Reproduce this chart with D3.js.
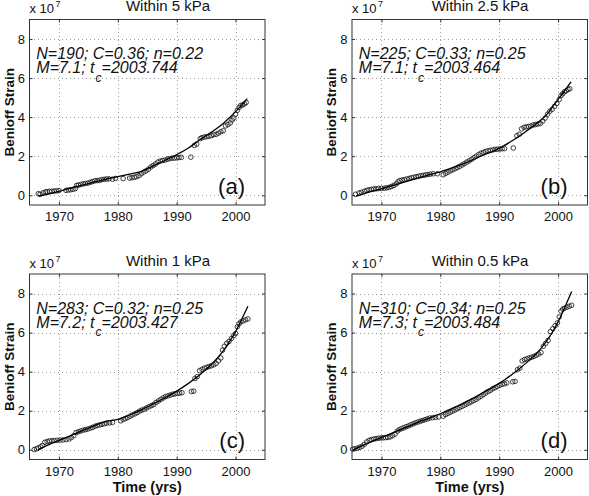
<!DOCTYPE html>
<html>
<head>
<meta charset="utf-8">
<script src="https://cdn.jsdelivr.net/npm/d3@7/dist/d3.min.js"></script>
<style>
body { margin: 0; background: #fff; }
svg { font-family: 'Liberation Sans', Arial, Helvetica, sans-serif; }
.grid line { stroke: #9a9a9a; stroke-dasharray: 1,3; shape-rendering: crispEdges; }
.grid path, .ticks path { display: none; }
.ticks line { stroke: #333; }
.ticks text { font-size: 13px; fill: #111; }
</style>
</head>
<body>
<script>
// axis ticks
var yearTicks = [1970, 1980, 1990, 2000];
var strainTicks = [0, 2, 4, 6, 8];

// panel texts
var titles = ['Within 5 kPa', 'Within 2.5 kPa', 'Within 1 kPa', 'Within 0.5 kPa'];
var fitLines = ['N=190; C=0.36; n=0.22', 'N=225; C=0.33; n=0.25', 'N=283; C=0.32; n=0.25', 'N=310; C=0.34; n=0.25'];
var magnitudes = ['M=7.1; t', 'M=7.1; t', 'M=7.2; t', 'M=7.3; t'];
var tcValues = ['=2003.744', '=2003.464', '=2003.427', '=2003.484'];
var panelLabels = ['(a)', '(b)', '(c)', '(d)'];

// cumulative Benioff strain (x 10^7), [year, value]
var pointsA = [[1966.5,0.08],[1966.8,0.05],[1967.3,0.12],[1967.7,0.17],[1968.0,0.18],[1968.4,0.2],[1968.8,0.2],[1969.2,0.22],[1969.6,0.22],[1970.0,0.24],
    [1971.2,0.25],[1971.6,0.27],[1972.0,0.28],[1972.4,0.3],[1972.8,0.35],[1973.0,0.5],[1973.3,0.52],[1973.7,0.55],[1974.1,0.58],[1974.5,0.6],
    [1974.9,0.62],[1975.3,0.66],[1975.7,0.7],[1976.1,0.74],[1976.5,0.75],[1976.9,0.76],[1977.3,0.8],[1977.7,0.82],[1978.1,0.83],[1978.5,0.84],
    [1979.1,0.82],[1979.6,0.86],[1980.9,0.85],[1982.0,0.88],[1982.4,0.9],[1982.8,0.92],[1983.2,0.95],[1983.6,1.0],[1984.0,1.1],[1984.4,1.18],
    [1984.8,1.25],[1985.2,1.33],[1985.6,1.45],[1986.0,1.52],[1986.4,1.6],[1986.8,1.7],[1987.2,1.75],[1987.6,1.78],[1988.0,1.8],[1988.4,1.85],
    [1988.8,1.87],[1989.2,1.9],[1989.6,1.9],[1990.0,1.92],[1990.4,1.93],[1990.8,1.94],[1992.4,1.95],[1993.0,2.55],[1993.4,2.62],[1994.0,2.9],
    [1994.3,2.95],[1994.7,2.98],[1995.1,3.0],[1995.5,3.02],[1995.9,3.05],[1996.3,3.1],[1996.7,3.12],[1997.1,3.18],[1997.5,3.25],[1997.9,3.3],
    [1998.3,3.55],[1998.7,3.62],[1999.1,3.7],[1999.4,3.85],[1999.7,3.95],[2000.0,4.15],[2000.3,4.35],[2000.6,4.5],[2000.9,4.6],[2001.2,4.62],
    [2001.5,4.68],[2001.8,4.75]];
var pointsB = [[1965.6,0.05],[1966.2,0.12],[1966.6,0.15],[1967.1,0.2],[1967.5,0.25],[1967.9,0.28],[1968.3,0.3],[1968.7,0.32],[1969.1,0.33],[1969.5,0.35],
    [1970.0,0.35],[1970.5,0.36],[1970.9,0.38],[1971.3,0.4],[1971.7,0.45],[1972.1,0.5],[1972.5,0.58],[1972.8,0.68],[1973.1,0.75],[1973.5,0.78],
    [1973.9,0.8],[1974.3,0.83],[1974.7,0.86],[1975.1,0.9],[1975.5,0.92],[1975.9,0.95],[1976.3,0.97],[1976.7,1.0],[1977.1,1.02],[1977.5,1.04],
    [1977.9,1.06],[1978.3,1.08],[1978.8,1.1],[1979.5,1.1],[1980.5,1.05],[1980.9,1.12],[1981.3,1.18],[1981.7,1.25],[1982.1,1.3],[1982.5,1.36],
    [1982.9,1.42],[1983.3,1.48],[1983.7,1.55],[1984.1,1.62],[1984.5,1.7],[1984.9,1.76],[1985.3,1.84],[1985.7,1.92],[1986.1,2.0],[1986.5,2.08],
    [1986.9,2.15],[1987.3,2.2],[1987.7,2.24],[1988.1,2.28],[1988.5,2.3],[1988.9,2.32],[1989.3,2.35],[1989.7,2.36],[1990.1,2.37],[1990.5,2.38],
    [1990.9,2.39],[1992.4,2.42],[1993.0,3.05],[1993.4,3.12],[1993.8,3.4],[1994.2,3.48],[1994.6,3.5],[1995.0,3.52],[1995.4,3.55],[1995.8,3.6],
    [1996.2,3.62],[1996.6,3.65],[1997.0,3.68],[1997.4,3.8],[1997.8,3.95],[1998.2,4.15],[1998.6,4.3],[1999.0,4.4],[1999.4,4.55],[1999.8,4.7],
    [2000.2,4.9],[2000.5,5.1],[2000.8,5.2],[2001.1,5.3],[2001.4,5.35],[2001.7,5.42],[2002.0,5.45]];
var pointsC = [[1965.8,0.01],[1966.2,0.05],[1966.5,0.1],[1966.9,0.15],[1967.2,0.22],[1967.6,0.38],[1968.0,0.42],[1968.4,0.45],[1968.8,0.46],[1969.2,0.47],
    [1969.7,0.48],[1970.2,0.5],[1970.7,0.5],[1971.2,0.52],[1971.7,0.55],[1972.1,0.62],[1972.5,0.72],[1972.9,0.88],[1973.3,0.92],[1973.7,0.96],
    [1974.1,1.0],[1974.5,1.03],[1974.9,1.06],[1975.3,1.1],[1975.7,1.14],[1976.1,1.2],[1976.5,1.24],[1976.9,1.27],[1977.3,1.3],[1977.7,1.33],
    [1978.1,1.36],[1978.6,1.38],[1979.1,1.4],[1980.5,1.48],[1980.9,1.55],[1981.3,1.6],[1981.7,1.65],[1982.1,1.72],[1982.5,1.78],[1982.9,1.84],
    [1983.3,1.9],[1983.7,1.98],[1984.1,2.03],[1984.5,2.08],[1984.9,2.14],[1985.3,2.2],[1985.7,2.26],[1986.1,2.32],[1986.5,2.42],[1986.9,2.5],
    [1987.3,2.58],[1987.7,2.65],[1988.1,2.72],[1988.5,2.76],[1988.9,2.8],[1989.3,2.84],[1989.7,2.86],[1990.1,2.88],[1990.5,2.9],[1990.9,2.92],
    [1992.5,2.98],[1992.9,3.0],[1993.1,3.65],[1993.5,3.75],[1993.9,4.05],[1994.3,4.12],[1994.7,4.18],[1995.1,4.22],[1995.5,4.26],[1995.9,4.3],
    [1996.3,4.35],[1996.7,4.42],[1997.1,4.55],[1997.5,4.7],[1997.8,5.1],[1998.1,5.3],[1998.5,5.45],[1998.9,5.55],[1999.3,5.7],[1999.7,5.85],
    [2000.0,5.95],[2000.3,6.3],[2000.6,6.45],[2000.9,6.55],[2001.3,6.6],[2001.7,6.65],[2002.1,6.7]];
var pointsD = [[1965.1,0.03],[1965.5,0.05],[1965.9,0.08],[1966.3,0.12],[1966.7,0.18],[1967.1,0.28],[1967.5,0.4],[1967.9,0.48],[1968.3,0.52],[1968.7,0.55],
    [1969.1,0.57],[1969.5,0.59],[1969.9,0.6],[1970.3,0.61],[1970.7,0.62],[1971.1,0.63],[1971.5,0.66],[1971.9,0.72],[1972.3,0.8],[1972.7,0.95],
    [1973.0,1.02],[1973.4,1.08],[1973.8,1.12],[1974.2,1.18],[1974.6,1.22],[1975.0,1.28],[1975.4,1.33],[1975.8,1.38],[1976.2,1.42],[1976.6,1.46],
    [1977.0,1.5],[1977.4,1.54],[1977.8,1.58],[1978.2,1.62],[1978.7,1.64],[1979.2,1.66],[1979.7,1.68],[1980.5,1.72],[1980.9,1.8],[1981.3,1.86],
    [1981.7,1.92],[1982.1,1.98],[1982.5,2.04],[1982.9,2.1],[1983.3,2.16],[1983.7,2.22],[1984.1,2.28],[1984.5,2.34],[1984.9,2.4],[1985.3,2.46],
    [1985.7,2.52],[1986.1,2.58],[1986.5,2.66],[1986.9,2.74],[1987.3,2.82],[1987.7,2.9],[1988.1,2.98],[1988.5,3.04],[1988.9,3.12],[1989.3,3.18],
    [1989.7,3.24],[1990.1,3.3],[1990.5,3.35],[1990.9,3.38],[1991.3,3.42],[1992.3,3.48],[1992.7,3.5],[1993.1,4.1],[1993.5,4.18],[1993.9,4.55],
    [1994.3,4.62],[1994.7,4.66],[1995.1,4.7],[1995.5,4.74],[1995.9,4.78],[1996.3,4.84],[1996.7,4.9],[1997.1,4.98],[1997.5,5.3],[1997.9,5.45],
    [1998.3,5.6],[1998.7,6.05],[1999.1,6.2],[1999.5,6.35],[1999.9,6.5],[2000.2,6.8],[2000.5,7.1],[2000.8,7.2],[2001.1,7.25],[2001.5,7.3],
    [2001.9,7.35],[2002.3,7.4]];

// fitted time-to-failure curves
var curveA = [[1966.6,-0.05],[1968,0.05],[1970,0.2],[1972,0.36],[1974,0.52],[1976,0.68],[1978,0.83],[1980,0.95],[1982,1.08],[1984,1.22],
    [1986,1.5],[1988,1.78],[1990,2.08],[1992,2.42],[1994,2.85],[1996,3.25],[1998,3.7],[1999,3.98],[2000,4.28],[2001,4.6],[2002,4.95]];
var curveB = [[1965.7,-0.05],[1968,0.17],[1970,0.33],[1972,0.5],[1974,0.68],[1976,0.86],[1978,1.04],[1980,1.2],[1982,1.4],[1984,1.62],
    [1986,1.88],[1988,2.14],[1990,2.4],[1992,2.75],[1994,3.15],[1996,3.6],[1998,4.1],[1999,4.5],[2000,4.9],[2001,5.3],[2002.2,5.8]];
var curveC = [[1966.5,0.0],[1968,0.22],[1970,0.48],[1972,0.72],[1974,0.98],[1976,1.22],[1978,1.45],[1980,1.55],[1982,1.78],[1984,2.04],
    [1986,2.34],[1988,2.66],[1990,3.0],[1992,3.4],[1994,3.85],[1996,4.4],[1998,5.1],[1999,5.55],[2000,6.05],[2001,6.65],[2002.1,7.35]];
var curveD = [[1965.2,-0.02],[1967,0.25],[1969,0.5],[1971,0.75],[1973,1.0],[1975,1.25],[1977,1.5],[1979,1.72],[1981,1.98],[1983,2.25],
    [1985,2.55],[1987,2.88],[1989,3.22],[1991,3.6],[1993,4.05],[1995,4.55],[1997,5.15],[1998,5.55],[1999,6.0],[2000,6.55],[2001,7.2],[2002.3,8.1]];

var points = [pointsA, pointsB, pointsC, pointsD],
    curves = [curveA, curveB, curveC, curveD];

var svg = d3.select('body').append('svg')
        .attr('width', 589)
        .attr('height', 496),
    cols = [29.5, 352],
    rows = [19.5, 274],
    titleShift = [138.5, 128],
    w = 235.5,
    h = 185.5,
    x = d3.scaleLinear().domain([1965, 2005]).range([0, w]),
    y = d3.scaleLinear().domain([-0.5, 9]).range([h, 0]),
    line = d3.line()
        .x(function(d) { return x(d[0]); })
        .y(function(d) { return y(d[1]); })
        .curve(d3.curveMonotoneX);

titles.forEach(function(title, i) {
    var col = i % 2,
        row = Math.floor(i / 2),
        g = svg.append('g')
            .attr('transform', 'translate(' + cols[col] + ',' + rows[row] + ')');

    // dotted grid
    g.append('g')
        .attr('class', 'grid')
        .call(d3.axisBottom(x).tickValues(yearTicks).tickSize(h).tickFormat(''));
    g.append('g')
        .attr('class', 'grid')
        .call(d3.axisRight(y).tickValues(strainTicks).tickSize(w).tickFormat(''));

    // inward ticks on all four sides
    g.append('g')
        .attr('class', 'ticks')
        .attr('transform', 'translate(0,' + h + ')')
        .call(d3.axisBottom(x).tickValues(yearTicks).tickSizeInner(-3).tickSizeOuter(0).tickPadding(7).tickFormat(d3.format('d')));
    g.append('g')
        .attr('class', 'ticks')
        .call(d3.axisTop(x).tickValues(yearTicks).tickSizeInner(-3).tickSizeOuter(0).tickFormat(''));
    g.append('g')
        .attr('class', 'ticks')
        .call(d3.axisLeft(y).tickValues(strainTicks).tickSizeInner(-3).tickSizeOuter(0).tickPadding(4.5));
    g.append('g')
        .attr('class', 'ticks')
        .attr('transform', 'translate(' + w + ',0)')
        .call(d3.axisRight(y).tickValues(strainTicks).tickSizeInner(-3).tickSizeOuter(0).tickFormat(''));

    g.append('g')
        .selectAll('circle')
        .data(points[i])
        .enter()
        .append('circle')
        .attr('cx', function(d) { return x(d[0]); })
        .attr('cy', function(d) { return y(d[1]); })
        .attr('r', 2.3)
        .attr('fill', 'none')
        .attr('stroke', '#111')
        .attr('stroke-width', 0.8);

    g.append('path')
        .datum(curves[i])
        .attr('d', line)
        .attr('fill', 'none')
        .attr('stroke', '#000')
        .attr('stroke-width', 1.3);

    g.append('rect')
        .attr('width', w)
        .attr('height', h)
        .attr('fill', 'none')
        .attr('stroke', '#333')
        .attr('stroke-width', 1);

    // exponent and title
    g.append('text')
        .attr('x', 0)
        .attr('y', -6.3)
        .style('font-size', '13px')
        .style('fill', '#111')
        .text('x 10');
    g.append('text')
        .attr('x', 26)
        .attr('y', -12.5)
        .style('font-size', '9px')
        .style('fill', '#111')
        .text('7');
    g.append('text')
        .attr('x', titleShift[col])
        .attr('y', -8.5)
        .attr('text-anchor', 'middle')
        .style('font-size', '15px')
        .style('fill', '#111')
        .text(title);

    g.append('text')
        .attr('transform', 'translate(-16,' + h / 2 + ') rotate(-90)')
        .attr('text-anchor', 'middle')
        .style('font-size', '13.5px')
        .style('font-weight', 'bold')
        .style('fill', '#111')
        .text('Benioff Strain');

    if (row === 1) {
        g.append('text')
            .attr('x', w / 2)
            .attr('y', h + 32)
            .attr('text-anchor', 'middle')
            .style('font-size', '14.5px')
            .style('font-weight', 'bold')
            .style('fill', '#111')
            .text('Time (yrs)');
    }

    // fit parameters
    g.append('text')
        .attr('x', 6.8)
        .attr('y', 39.5)
        .style('font-size', '16px')
        .style('font-style', 'italic')
        .style('fill', '#111')
        .text(fitLines[i]);
    var t2 = g.append('text')
        .attr('x', 6.8)
        .attr('y', 53.5)
        .style('font-size', '16px')
        .style('font-style', 'italic')
        .style('fill', '#111');
    t2.append('tspan').text(magnitudes[i]);
    t2.append('tspan')
        .attr('dy', 8.5)
        .attr('dx', 1)
        .style('font-size', '12px')
        .text('c');
    t2.append('tspan')
        .attr('dy', -8.5)
        .text(tcValues[i]);

    g.append('text')
        .attr('x', w - 20)
        .attr('y', h - 11.5)
        .attr('text-anchor', 'end')
        .style('font-size', '22px')
        .style('fill', '#111')
        .text(panelLabels[i]);
});
</script>
</body>
</html>
